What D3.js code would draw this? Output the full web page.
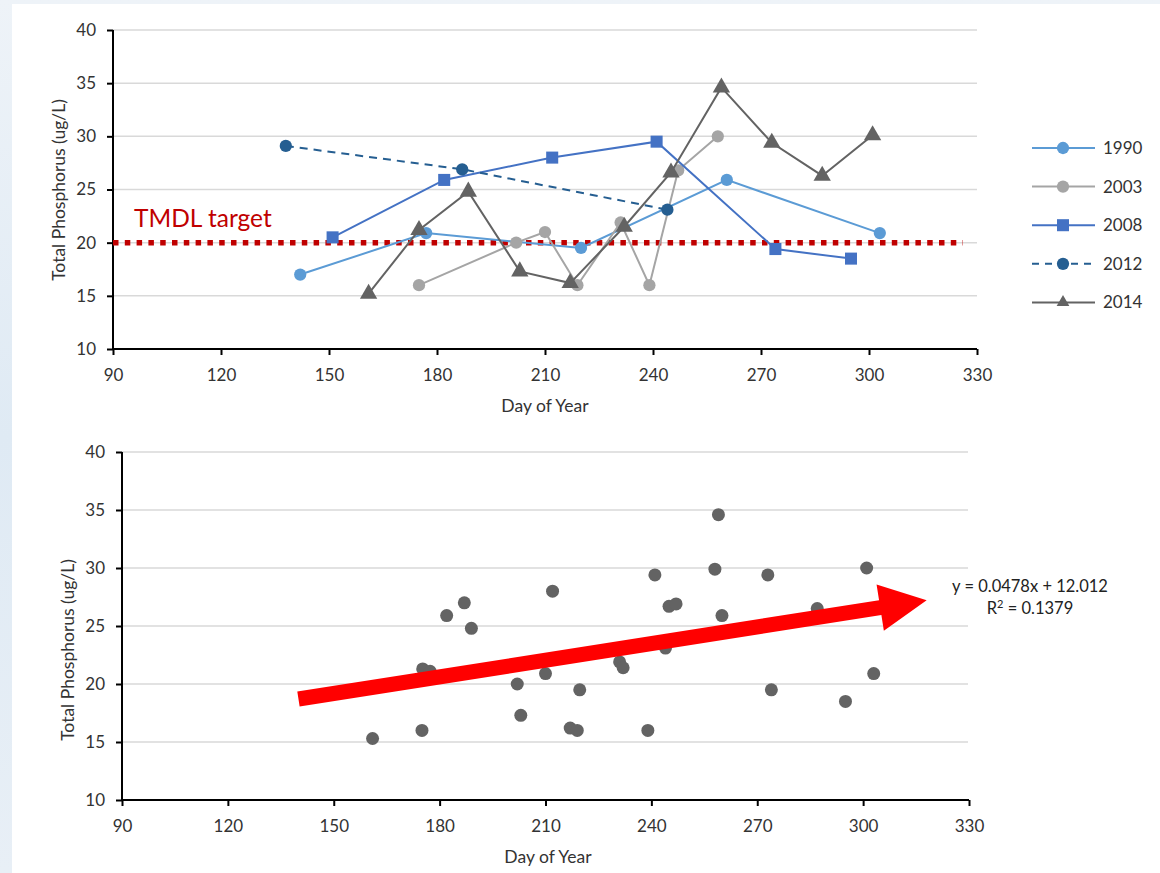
<!DOCTYPE html>
<html>
<head>
<meta charset="utf-8">
<script src="https://cdnjs.cloudflare.com/ajax/libs/d3/7.8.5/d3.min.js"></script>
<style>
  body { margin: 0; background: #fff; }
  svg text { font-family: Lato, "Open Sans", sans-serif; }
</style>
</head>
<body>
<div id="chart"></div>
<script>
// ---- data ----
var years = ["1990", "2003", "2008", "2012", "2014"];

var day1990 = [142, 177, 220, 260.5, 303];
var tp1990  = [17, 20.9, 19.5, 25.9, 20.9];

var day2003 = [175, 202, 210, 219, 231, 239, 247, 258];
var tp2003  = [16, 20, 21, 16, 21.9, 16, 26.8, 30];

var day2008 = [151, 182, 212, 241, 274, 295];
var tp2008  = [20.5, 25.9, 28, 29.5, 19.4, 18.5];

var day2012 = [138, 187, 244];
var tp2012  = [29.1, 26.9, 23.1];

var day2014 = [161, 175, 188.7, 203, 217, 232, 245, 259, 273, 287, 301];
var tp2014  = [15.2, 21.2, 24.8, 17.3, 16.2, 21.5, 26.6, 34.6, 29.4, 26.3, 30.1];

// points shown in the lower scatter panel
var scatterDay = [161, 175, 175.2, 177.3, 182, 187, 189, 202, 203, 210, 212, 217, 219, 219.7,
                  231, 232, 239, 241, 244, 245, 247, 258, 259, 260, 273, 274, 287, 295, 301, 303];
var scatterTP  = [15.3, 16, 21.3, 21.1, 25.9, 27, 24.8, 20, 17.3, 20.9, 28, 16.2, 16, 19.5,
                  21.9, 21.4, 16, 29.4, 23.1, 26.7, 26.9, 29.9, 34.6, 25.9, 29.4, 19.5, 26.5, 18.5, 30, 20.9];

var xTicks = [90, 120, 150, 180, 210, 240, 270, 300, 330];
var yTicks = [10, 15, 20, 25, 30, 35, 40];
var tmdlTarget = 20;
var trendSlope = 0.0478, trendIntercept = 12.012, trendR2 = 0.1379;
var trendFrom = 140, trendTo = 318;

var colors = {"1990": "#5B9BD5", "2003": "#A5A5A5", "2008": "#4472C4", "2012": "#255E91", "2014": "#636363"};
var symbols = {"1990": "circle", "2003": "circle", "2008": "square", "2012": "circle", "2014": "triangle"};

function seriesOf(y) {
  var d = {"1990": [day1990, tp1990], "2003": [day2003, tp2003], "2008": [day2008, tp2008],
           "2012": [day2012, tp2012], "2014": [day2014, tp2014]}[y];
  return d[0].map(function(v, i) { return {day: v, tp: d[1][i]}; });
}

var width = 1160, height = 873;
var svg = d3.select("#chart").append("svg").attr("width", width).attr("height", height);

// slide-ish background
var defs = svg.append("defs");
var lg = defs.append("linearGradient").attr("id", "edge").attr("x1", 0).attr("y1", 0).attr("x2", 0).attr("y2", 1);
lg.append("stop").attr("offset", "0%").attr("stop-color", "#eef3f8");
lg.append("stop").attr("offset", "50%").attr("stop-color", "#dfeaf4");
lg.append("stop").attr("offset", "100%").attr("stop-color", "#e8eff6");
svg.append("rect").attr("width", width).attr("height", height).attr("fill", "url(#edge)");
svg.append("rect").attr("x", 12).attr("y", 4).attr("width", width - 12).attr("height", height - 4).attr("fill", "#fff");

function markerPath(sym, size) {
  var t = sym == "square" ? d3.symbolSquare : sym == "triangle" ? d3.symbolTriangle : d3.symbolCircle;
  return d3.symbol().type(t).size(size)();
}
var markerSize = {"circle": 118, "square": 145, "triangle": 130};

function drawAxes(g, x, y, gridRight) {
  g.append("g").selectAll("line").data(yTicks.slice(1)).join("line")
    .attr("x1", x(90)).attr("x2", gridRight)
    .attr("y1", function(d) { return y(d); }).attr("y2", function(d) { return y(d); })
    .attr("stroke", "#d9d9d9").attr("stroke-width", 1.5);

  var ya = g.append("g").attr("transform", "translate(" + x(90) + ",0)")
    .call(d3.axisLeft(y).tickValues(yTicks).tickSize(6).tickPadding(11));
  var xa = g.append("g").attr("transform", "translate(0," + y(10) + ")")
    .call(d3.axisBottom(x).tickValues(xTicks).tickSize(6).tickPadding(14));
  [ya, xa].forEach(function(a) {
    a.attr("font-size", 17).attr("font-family", "Lato, sans-serif");
    a.select(".domain").attr("stroke", "#000").attr("stroke-width", 2);
    a.selectAll(".tick line").attr("stroke", "#000").attr("stroke-width", 2);
    a.selectAll(".tick text").attr("fill", "#333");
  });
  ya.select(".domain").attr("d", "M0," + y(10) + "V" + y(40));
  xa.select(".domain").attr("d", "M" + x(90) + ",0H" + x(330));
}

// ---------- top panel: series by year ----------
var xTop = d3.scaleLinear().domain([90, 330]).range([113, 977]);
var yTop = d3.scaleLinear().domain([10, 40]).range([349, 30]);
var topG = svg.append("g");
drawAxes(topG, xTop, yTop, 977);

topG.append("line")
  .attr("x1", xTop(90)).attr("x2", 963)
  .attr("y1", yTop(tmdlTarget)).attr("y2", yTop(tmdlTarget))
  .attr("stroke", "#C00000").attr("stroke-width", 5.5).attr("stroke-dasharray", "5.5,6.3");
topG.append("text").attr("x", 134).attr("y", 227).attr("font-size", 24.5).attr("fill", "#C00000")
  .text("TMDL target");

var line = d3.line().x(function(d) { return xTop(d.day); }).y(function(d) { return yTop(d.tp); });
years.forEach(function(yr) {
  var pts = seriesOf(yr);
  topG.append("path").datum(pts).attr("d", line).attr("fill", "none")
    .attr("stroke", colors[yr]).attr("stroke-width", 2)
    .attr("stroke-dasharray", yr == "2012" ? "8,6" : null);
  topG.append("g").selectAll("path").data(pts).join("path")
    .attr("d", markerPath(symbols[yr], markerSize[symbols[yr]]))
    .attr("transform", function(d) { return "translate(" + xTop(d.day) + "," + yTop(d.tp) + ")"; })
    .attr("fill", colors[yr]);
});

topG.append("text").attr("x", 545).attr("y", 412).attr("text-anchor", "middle")
  .attr("font-size", 17.5).attr("fill", "#333").text("Day of Year");
topG.append("text").attr("transform", "translate(65,190) rotate(-90)").attr("text-anchor", "middle")
  .attr("font-size", 17.5).attr("fill", "#333").text("Total Phosphorus (ug/L)");

// legend
var legend = svg.append("g").selectAll("g").data(years).join("g")
  .attr("transform", function(d, i) { return "translate(1032," + (148 + i * 38.6) + ")"; });
legend.append("line").attr("x1", 0).attr("x2", 63)
  .attr("stroke", function(d) { return colors[d]; }).attr("stroke-width", 2)
  .attr("stroke-dasharray", function(d) { return d == "2012" ? "7,6" : null; });
legend.append("path")
  .attr("d", function(d) { return markerPath(symbols[d], symbols[d] == "triangle" ? 70 : markerSize[symbols[d]]); })
  .attr("transform", "translate(31,0)")
  .attr("fill", function(d) { return colors[d]; });
legend.append("text").attr("x", 71).attr("y", 6).attr("font-size", 17).attr("fill", "#333")
  .text(function(d) { return d; });

// ---------- bottom panel: scatter + trend ----------
var xBot = d3.scaleLinear().domain([90, 330]).range([122, 969]);
var yBot = d3.scaleLinear().domain([10, 40]).range([800, 452]);
var botG = svg.append("g");
drawAxes(botG, xBot, yBot, 968);

botG.append("g").selectAll("circle").data(scatterDay).join("circle")
  .attr("cx", function(d) { return xBot(d); })
  .attr("cy", function(d, i) { return yBot(scatterTP[i]); })
  .attr("r", 6.5).attr("fill", "#636363");

// red arrow along the fitted trend
var p0 = [xBot(trendFrom), yBot(trendSlope * trendFrom + trendIntercept)];
var p1 = [xBot(trendTo), yBot(trendSlope * trendTo + trendIntercept)];
var dx = p1[0] - p0[0], dy = p1[1] - p0[1], len = Math.sqrt(dx * dx + dy * dy);
var ux = dx / len, uy = dy / len, nx = -uy, ny = ux;
var hw = 7.5, headW = 23.5, headL = 47;
var bx = p1[0] - ux * headL, by = p1[1] - uy * headL;
var arrowPts = [
  [p0[0] + nx * hw, p0[1] + ny * hw],
  [bx + nx * hw, by + ny * hw],
  [bx + nx * headW, by + ny * headW],
  p1,
  [bx - nx * headW, by - ny * headW],
  [bx - nx * hw, by - ny * hw],
  [p0[0] - nx * hw, p0[1] - ny * hw]
];
botG.append("path").attr("d", "M" + arrowPts.map(function(p) { return p.join(","); }).join("L") + "Z")
  .attr("fill", "#FF0000");

var eq = botG.append("text").attr("text-anchor", "middle").attr("font-size", 16.5).attr("fill", "#222");
eq.append("tspan").attr("x", 1030).attr("y", 592).text("y = " + trendSlope + "x + " + trendIntercept);
var r2 = eq.append("tspan").attr("x", 1030).attr("y", 614).text("R");
r2.append("tspan").attr("dy", -6).attr("font-size", 11).text("2");
r2.append("tspan").attr("dy", 6).text(" = " + trendR2);

botG.append("text").attr("x", 548).attr("y", 863).attr("text-anchor", "middle")
  .attr("font-size", 17.5).attr("fill", "#333").text("Day of Year");
botG.append("text").attr("transform", "translate(74,650) rotate(-90)").attr("text-anchor", "middle")
  .attr("font-size", 17.5).attr("fill", "#333").text("Total Phosphorus (ug/L)");
</script>
</body>
</html>
